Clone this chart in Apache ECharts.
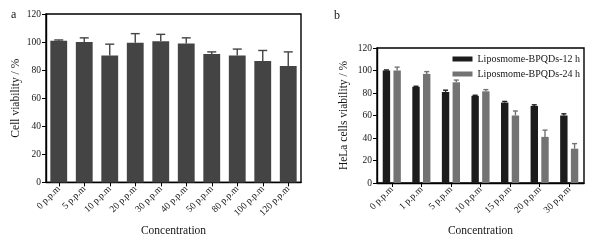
<!DOCTYPE html>
<html>
<head>
<meta charset="utf-8">
<script src="https://cdn.jsdelivr.net/npm/echarts@6/dist/echarts.min.js"></script>
<style>
html, body { margin: 0; padding: 0; background: #fff; }
#container { width: 592px; height: 242px; }
</style>
</head>
<body>
<div id="container"></div>
<script>
// panel a
var catsA = ['0 p.p.m', '5 p.p.m', '10 p.p.m', '20 p.p.m', '30 p.p.m', '40 p.p.m', '50 p.p.m', '80 p.p.m', '100 p.p.m', '120 p.p.m'];
var valA = [101, 100, 90.5, 99.5, 100.5, 99, 91.5, 90.5, 86.5, 83];
var errA = [0.5, 3, 8, 6.5, 5, 4, 1.5, 4.5, 7.5, 10];

// panel b
var catsB = ['0 p.p.m', '1 p.p.m', '5 p.p.m', '10 p.p.m', '15 p.p.m', '20 p.p.m', '30 p.p.m'];
var val12 = [100, 85.5, 81, 77.5, 71.5, 68.5, 60];
var err12 = [0.5, 0.5, 1.5, 0.5, 1, 1, 1.5];
var val24 = [100, 97, 89.5, 81.5, 60, 41, 30.5];
var err24 = [3, 2, 2, 1.5, 4, 6, 4.5];

var yTicks = [0, 20, 40, 60, 80, 100, 120];

var dom = document.getElementById('container');
var myChart = echarts.init(dom);
var font = 'Liberation Serif';
var ink = '#161616';

function errData(vals, errs) {
    var out = [];
    for (var i = 0; i < vals.length; i++) out.push([i, vals[i], errs[i]]);
    return out;
}

// draws the upper half of an error bar; shift is a fraction of the band width
function errRender(shift, cap, color) {
    return function (params, api) {
        var i = api.value(0);
        var band = api.size([1, 0])[0];
        var p0 = api.coord([i, api.value(1)]);
        var p1 = api.coord([i, api.value(1) + api.value(2)]);
        var x = p0[0] + band * shift;
        var st = { stroke: color, lineWidth: 1.4 };
        return {
            type: 'group',
            children: [
                { type: 'line', shape: { x1: x, y1: p0[1], x2: x, y2: p1[1] }, style: st },
                { type: 'line', shape: { x1: x - cap / 2, y1: p1[1], x2: x + cap / 2, y2: p1[1] }, style: st }
            ]
        };
    };
}

function yAxisOf(gi, name, gap) {
    return {
        gridIndex: gi, type: 'value', min: 0, max: 120, interval: 20,
        name: name, nameLocation: 'middle', nameGap: gap,
        nameTextStyle: { fontFamily: font, fontSize: 11.5, color: ink },
        axisLine: { show: true, lineStyle: { color: '#000', width: 1.4 } },
        axisTick: { show: true, length: 4, lineStyle: { color: '#000' } },
        axisLabel: { fontFamily: font, fontSize: 9.5, color: ink, margin: 5,
            formatter: function (v) { return yTicks.indexOf(v) >= 0 ? v : ''; } },
        splitLine: { show: false }
    };
}

function xAxisOf(gi, cats) {
    return {
        gridIndex: gi, type: 'category', data: cats,
        name: 'Concentration', nameLocation: 'middle', nameGap: 42,
        nameTextStyle: { fontFamily: font, fontSize: 11.5, color: ink },
        axisLine: { lineStyle: { color: '#000', width: 1.4 } },
        axisTick: { show: true, alignWithLabel: true, length: 4, lineStyle: { color: '#000' } },
        axisLabel: { fontFamily: font, fontSize: 9.5, color: ink, rotate: 45, margin: 5, interval: 0 }
    };
}

var bwB = 0.25, gapB = 0.45;
var offB = bwB * (1 + gapB) / 2;

var option = {
    animation: false,
    grid: [
        { left: 46, top: 14, right: 291, bottom: 59, show: true, borderColor: '#000', borderWidth: 1.4 },
        { left: 377, top: 48, right: 8, bottom: 59, show: true, borderColor: '#000', borderWidth: 1.4 }
    ],
    title: [
        { text: 'a', left: 6, top: 4, textStyle: { fontFamily: font, fontSize: 12, fontWeight: 'normal', color: ink } },
        { text: 'b', left: 329, top: 5, textStyle: { fontFamily: font, fontSize: 12, fontWeight: 'normal', color: ink } }
    ],
    legend: {
        right: 7, top: 49, orient: 'vertical', itemWidth: 20, itemHeight: 5, itemGap: 5,
        icon: 'rect',
        textStyle: { fontFamily: font, fontSize: 10, color: ink },
        data: ['Liposmome-BPQDs-12 h', 'Liposmome-BPQDs-24 h']
    },
    xAxis: [xAxisOf(0, catsA), xAxisOf(1, catsB)],
    yAxis: [yAxisOf(0, 'Cell viability / %', 24), yAxisOf(1, 'HeLa cells viability / %', 27)],
    series: [
        { type: 'bar', xAxisIndex: 0, yAxisIndex: 0, data: valA, barWidth: '66%',
          itemStyle: { color: '#444444' } },
        { type: 'custom', xAxisIndex: 0, yAxisIndex: 0, data: errData(valA, errA),
          renderItem: errRender(0, 9, '#444444'), encode: { x: 0, y: 1 }, z: 1 },
        { type: 'bar', name: 'Liposmome-BPQDs-12 h', xAxisIndex: 1, yAxisIndex: 1, data: val12,
          barWidth: (bwB * 100) + '%', barGap: (gapB * 100) + '%', itemStyle: { color: '#1c1c1c' } },
        { type: 'bar', name: 'Liposmome-BPQDs-24 h', xAxisIndex: 1, yAxisIndex: 1, data: val24,
          barWidth: (bwB * 100) + '%', barGap: (gapB * 100) + '%', itemStyle: { color: '#737373' } },
        { type: 'custom', xAxisIndex: 1, yAxisIndex: 1, data: errData(val12, err12),
          renderItem: errRender(-offB, 5, '#1c1c1c'), encode: { x: 0, y: 1 }, z: 1 },
        { type: 'custom', xAxisIndex: 1, yAxisIndex: 1, data: errData(val24, err24),
          renderItem: errRender(offB, 5, '#737373'), encode: { x: 0, y: 1 }, z: 1 }
    ]
};

myChart.setOption(option);
</script>
</body>
</html>
